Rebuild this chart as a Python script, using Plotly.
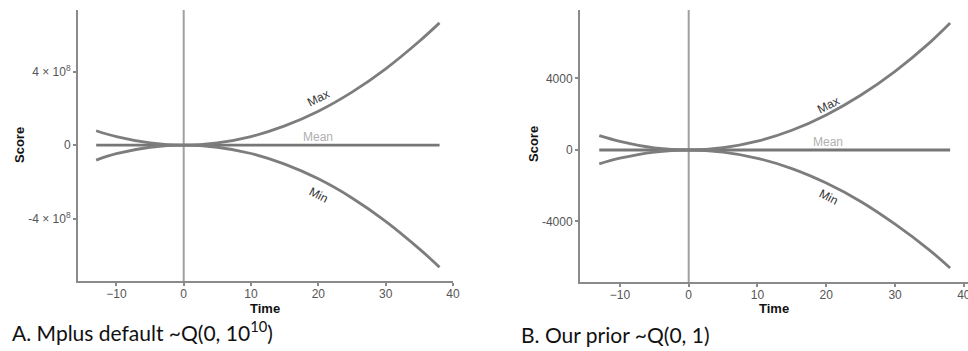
import plotly.graph_objects as go

# ---- data ----
times = [-13, -10, -5, 0, 5, 10, 15, 20, 25, 30, 35, 38]

a_max = [0.78e8, 0.46e8, 0.12e8, 0, 0.12e8, 0.46e8, 1.04e8, 1.84e8, 2.88e8, 4.15e8, 5.65e8, 6.65e8]
a_mean = [0] * 12
a_min = [-0.82e8, -0.47e8, -0.12e8, 0, -0.12e8, -0.46e8, -1.04e8, -1.84e8, -2.88e8, -4.15e8, -5.65e8, -6.65e8]

b_max = [800, 480, 120, 0, 125, 490, 1100, 1960, 3060, 4400, 5990, 7100]
b_mean = [0] * 12
b_min = [-780, -460, -115, 0, -120, -465, -1040, -1850, -2880, -4150, -5600, -6600]

x_ticks = [-10, 0, 10, 20, 30, 40]
a_yticks = [-4e8, 0, 4e8]
a_yticktext = ["-4 × 10<sup>8</sup>", "0", "4 × 10<sup>8</sup>"]
b_yticks = [-4000, 0, 4000]
b_yticktext = ["-4000", "0", "4000"]

caption_a = "A. Mplus default ~Q(0, 10<sup>10</sup>)"
caption_b = "B. Our prior ~Q(0, 1)"

LINE = "#7d7d7d"
AX = "#8a8a8a"
W, H = 968, 351

fig = go.Figure()

for xa, ya, mx, mn, me in [("x", "y", a_max, a_min, a_mean), ("x2", "y2", b_max, b_min, b_mean)]:
    for vals, col in [(me, "#777777"), (mx, LINE), (mn, LINE)]:
        fig.add_trace(go.Scatter(x=times, y=vals, xaxis=xa, yaxis=ya, mode="lines",
                                 line=dict(color=col, width=2.8, shape="spline"),
                                 showlegend=False, hoverinfo="skip"))

def px_x(p):
    return p / W

def px_y(p):
    return 1 - p / H

axis_common = dict(showline=True, linecolor=AX, linewidth=2, ticks="outside", ticklen=3,
                   tickwidth=1.5, tickcolor=AX, showgrid=False, zeroline=False, automargin=False,
                   ticklabeloverflow="allow",
                   tickfont=dict(family="Liberation Sans, Arial", size=12, color="#555555"))
title_font = dict(family="Liberation Sans, Arial", size=13, color="#111")

fig.update_layout(
    width=W, height=H, margin=dict(l=0, r=0, t=0, b=0),
    plot_bgcolor="white", paper_bgcolor="white",
    xaxis=dict(domain=[px_x(78), px_x(453)], range=[-15.7, 40], tickvals=x_ticks, anchor="y",
               ticklabelstandoff=-2, **axis_common),
    yaxis=dict(domain=[px_y(281), px_y(10)], range=[-7.4e8, 7.35e8], tickvals=a_yticks,
               ticktext=a_yticktext, anchor="x", **axis_common),
    xaxis2=dict(domain=[px_x(580), 1.0], range=[-15.8, 40.6], tickvals=x_ticks, anchor="y2",
                ticklabelstandoff=-2, **axis_common),
    yaxis2=dict(domain=[px_y(282), px_y(10)], range=[-7385, 7830], tickvals=b_yticks,
                ticktext=b_yticktext, anchor="x2", **axis_common),
)

# axis titles
for x, y, t, ang in [(265, 308, "<b>Time</b>", 0), (774, 308, "<b>Time</b>", 0),
                     (20, 145, "<b>Score</b>", -90), (533, 144, "<b>Score</b>", -90)]:
    fig.add_annotation(xref="paper", yref="paper", x=px_x(x), y=px_y(y), text=t, textangle=ang,
                       showarrow=False, xanchor="center", yanchor="middle", font=title_font)

# vertical line at time 0
for xr, yr in [("x", "y domain"), ("x2", "y2 domain")]:
    fig.add_shape(type="line", xref=xr, yref=yr, x0=0, x1=0, y0=0, y1=1,
                  line=dict(color="#a0a0a0", width=2), layer="below")

lab_font = dict(family="Liberation Sans, Arial", size=12, color="#333333")
mean_font = dict(family="Liberation Sans, Arial", size=12, color="#b0b0b0")
labels = [
    ("x", "y", 20, 2.56e8, "Max", -27, lab_font),
    ("x", "y", 20, 0.44e8, "Mean", 0, mean_font),
    ("x", "y", 20, -2.72e8, "Min", 27, lab_font),
    ("x2", "y2", 20.3, 2520, "Max", -27, lab_font),
    ("x2", "y2", 20.3, 450, "Mean", 0, mean_font),
    ("x2", "y2", 20.3, -2630, "Min", 27, lab_font),
]
for xr, yr, xv, yv, t, ang, f in labels:
    fig.add_annotation(xref=xr, yref=yr, x=xv, y=yv, text=t, textangle=ang, showarrow=False,
                       font=f)

cap_font = dict(family="Lato, Open Sans, sans-serif", size=21, color="#111111")
fig.add_annotation(xref="paper", yref="paper", x=px_x(10), y=px_y(331), xanchor="left",
                   yanchor="middle", text=caption_a, showarrow=False, font=cap_font)
fig.add_annotation(xref="paper", yref="paper", x=px_x(519), y=px_y(334), xanchor="left",
                   yanchor="middle", text=caption_b, showarrow=False, font=cap_font)

fig.write_html("out.html", config={"displayModeBar": False},
               post_script="document.body.style.margin='0';document.body.style.overflow='hidden';")
